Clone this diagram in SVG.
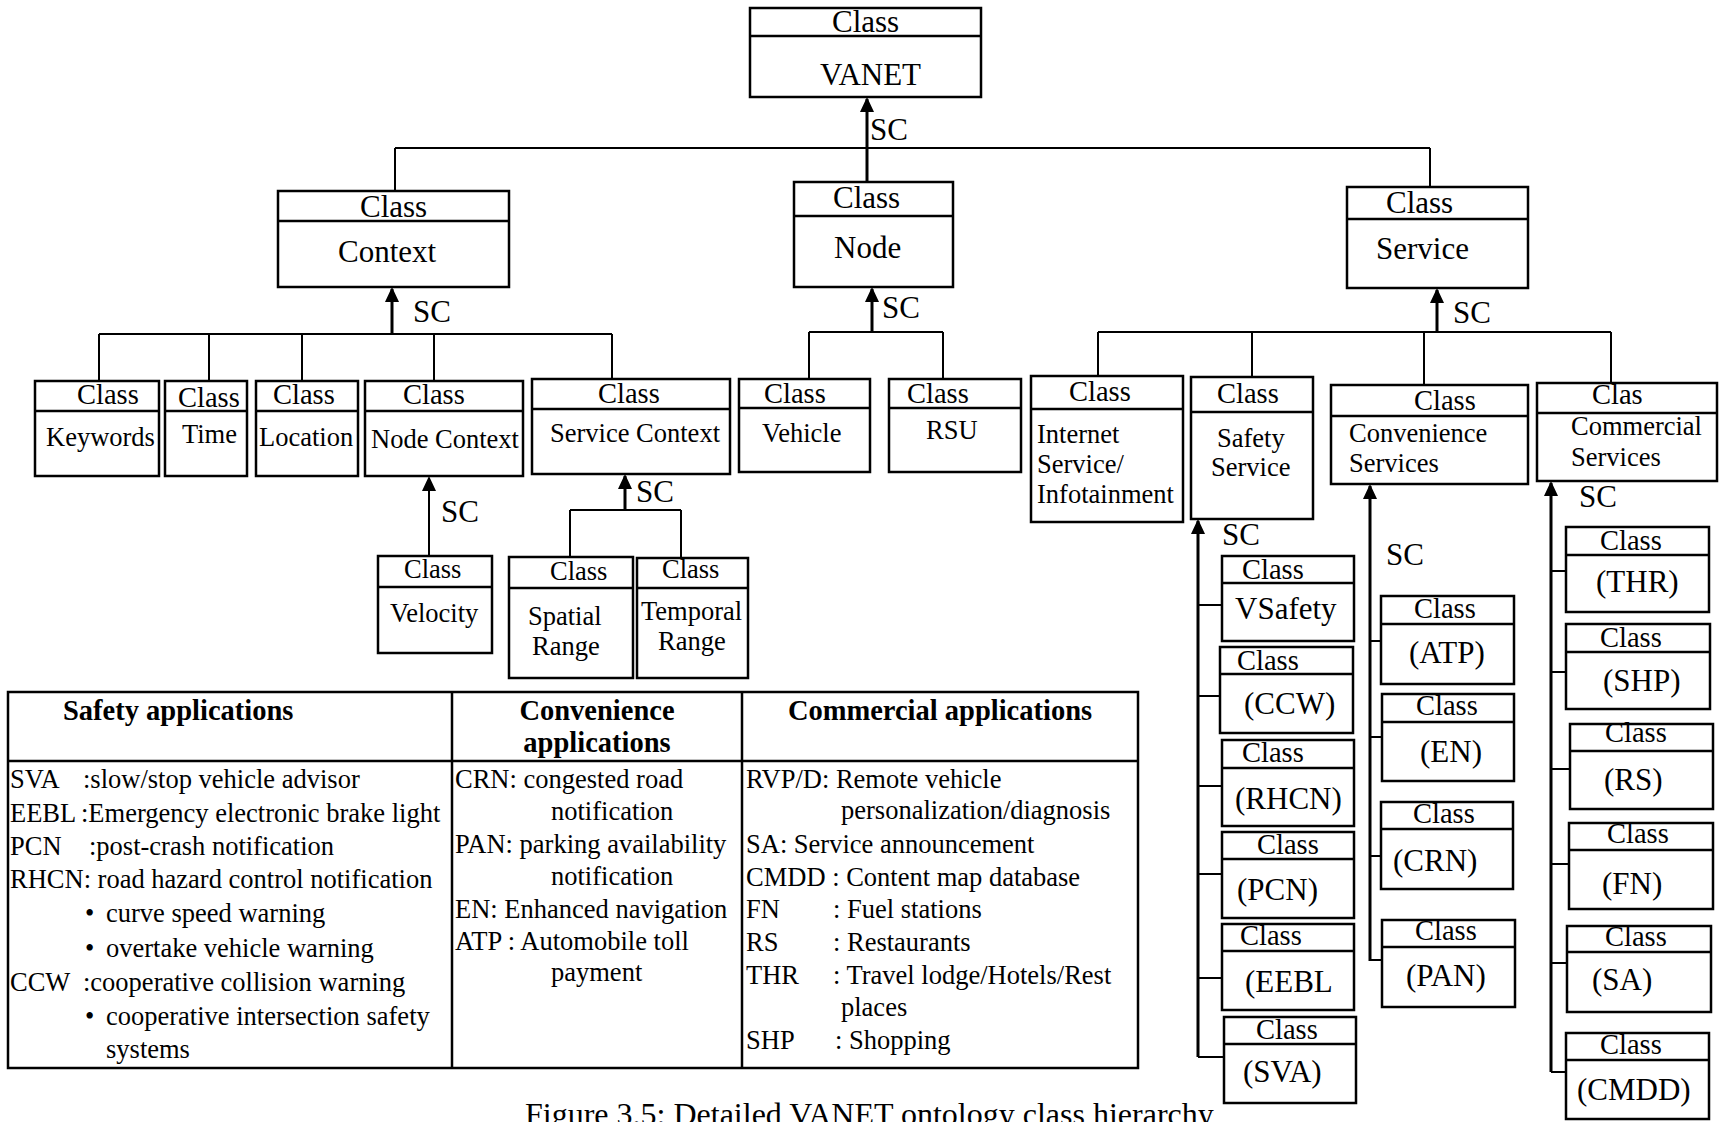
<svg xmlns="http://www.w3.org/2000/svg" width="1720" height="1122" viewBox="0 0 1720 1122">
<style>
.bx{fill:#fff;stroke:#000;stroke-width:2.5}
.dv{stroke:#000;stroke-width:2.5}
.ln{stroke:#000;stroke-width:2;fill:none}
.ar{stroke:#000;stroke-width:3;fill:none}
text{font-family:"Liberation Serif","Times New Roman",serif;fill:#000}
.c{font-size:28.5px}
.cs{font-size:26.5px}
.cl{font-size:31px}
.l{font-size:26.5px}
.p{font-size:31px}
.sc{font-size:31px}
.tb{font-size:26.5px}
.th{font-size:28.5px;font-weight:bold}
.cap{font-size:32px}
</style>
<defs>
<marker id="arr" viewBox="0 0 15 14" refX="13" refY="7" markerWidth="15" markerHeight="14" markerUnits="userSpaceOnUse" orient="auto">
<path d="M0,0 L15,7 L0,14 Z" fill="#000"/>
</marker>
</defs>

<g id="connectors">
<line class="ar" x1="867" y1="182" x2="867" y2="99" marker-end="url(#arr)"/>
<line class="ln" x1="395" y1="148" x2="1430" y2="148"/>
<line class="ln" x1="395" y1="148" x2="395" y2="191"/>
<line class="ln" x1="1430" y1="148" x2="1430" y2="187"/>

<line class="ar" x1="392" y1="334" x2="392" y2="289" marker-end="url(#arr)"/>
<line class="ln" x1="99" y1="334" x2="612" y2="334"/>
<line class="ln" x1="99" y1="334" x2="99" y2="381"/>
<line class="ln" x1="209" y1="334" x2="209" y2="381"/>
<line class="ln" x1="302" y1="334" x2="302" y2="381"/>
<line class="ln" x1="434" y1="334" x2="434" y2="381"/>
<line class="ln" x1="612" y1="334" x2="612" y2="379"/>

<line class="ar" x1="872" y1="332" x2="872" y2="289" marker-end="url(#arr)"/>
<line class="ln" x1="809" y1="332" x2="943" y2="332"/>
<line class="ln" x1="809" y1="332" x2="809" y2="379"/>
<line class="ln" x1="943" y1="332" x2="943" y2="379"/>

<line class="ar" x1="1437" y1="332" x2="1437" y2="290" marker-end="url(#arr)"/>
<line class="ln" x1="1098" y1="332" x2="1611" y2="332"/>
<line class="ln" x1="1098" y1="332" x2="1098" y2="376"/>
<line class="ln" x1="1252" y1="332" x2="1252" y2="377"/>
<line class="ln" x1="1424" y1="332" x2="1424" y2="385"/>
<line class="ln" x1="1611" y1="332" x2="1611" y2="383"/>

<line class="ln" x1="429" y1="556" x2="429" y2="478" marker-end="url(#arr)"/>

<line class="ar" x1="625" y1="510" x2="625" y2="476" marker-end="url(#arr)"/>
<line class="ln" x1="570" y1="510" x2="681" y2="510"/>
<line class="ln" x1="570" y1="510" x2="570" y2="557"/>
<line class="ln" x1="681" y1="510" x2="681" y2="558"/>

<line class="ar" x1="1198" y1="1057" x2="1198" y2="521" marker-end="url(#arr)"/>
<line class="ln" x1="1198" y1="605" x2="1222" y2="605"/>
<line class="ln" x1="1198" y1="696" x2="1220" y2="696"/>
<line class="ln" x1="1198" y1="786" x2="1222" y2="786"/>
<line class="ln" x1="1198" y1="874" x2="1222" y2="874"/>
<line class="ln" x1="1198" y1="978" x2="1222" y2="978"/>
<line class="ln" x1="1198" y1="1057" x2="1224" y2="1057"/>

<line class="ar" x1="1370" y1="961" x2="1370" y2="486" marker-end="url(#arr)"/>
<line class="ln" x1="1370" y1="641" x2="1381" y2="641"/>
<line class="ln" x1="1370" y1="737" x2="1382" y2="737"/>
<line class="ln" x1="1370" y1="856" x2="1381" y2="856"/>
<line class="ln" x1="1370" y1="960" x2="1382" y2="960"/>

<line class="ar" x1="1551" y1="1072" x2="1551" y2="483" marker-end="url(#arr)"/>
<line class="ln" x1="1551" y1="571" x2="1566" y2="571"/>
<line class="ln" x1="1551" y1="672" x2="1566" y2="672"/>
<line class="ln" x1="1551" y1="769" x2="1570" y2="769"/>
<line class="ln" x1="1551" y1="864" x2="1569" y2="864"/>
<line class="ln" x1="1551" y1="963" x2="1567" y2="963"/>
<line class="ln" x1="1551" y1="1072" x2="1566" y2="1072"/>

<text class="sc" x="870" y="140">SC</text>
<text class="sc" x="413" y="322">SC</text>
<text class="sc" x="882" y="318">SC</text>
<text class="sc" x="1453" y="323">SC</text>
<text class="sc" x="441" y="522">SC</text>
<text class="sc" x="636" y="502">SC</text>
<text class="sc" x="1222" y="545">SC</text>
<text class="sc" x="1386" y="565">SC</text>
<text class="sc" x="1579" y="507">SC</text>
</g>

<g id="vanet">
<rect class="bx" x="750" y="8" width="231" height="89"/>
<line class="dv" x1="750" y1="36" x2="981" y2="36"/>
<text class="cl" x="832" y="32">Class</text>
<text class="cl" x="820" y="85">VANET</text>
</g>

<g id="context">
<rect class="bx" x="278" y="191" width="231" height="96"/>
<line class="dv" x1="278" y1="221" x2="509" y2="221"/>
<text class="cl" x="360" y="217">Class</text>
<text class="cl" x="338" y="262">Context</text>
</g>

<g id="node">
<rect class="bx" x="794" y="182" width="159" height="105"/>
<line class="dv" x1="794" y1="216" x2="953" y2="216"/>
<text class="cl" x="833" y="208">Class</text>
<text class="cl" x="834" y="258">Node</text>
</g>

<g id="service">
<rect class="bx" x="1347" y="187" width="181" height="101"/>
<line class="dv" x1="1347" y1="219" x2="1528" y2="219"/>
<text class="cl" x="1386" y="213">Class</text>
<text class="cl" x="1376" y="259">Service</text>
</g>

<g id="keywords">
<rect class="bx" x="35" y="381" width="124" height="95"/>
<line class="dv" x1="35" y1="411" x2="159" y2="411"/>
<text class="c" x="77" y="404">Class</text>
<text class="l" x="46" y="446">Keywords</text>
</g>

<g id="time">
<rect class="bx" x="165" y="381" width="82" height="95"/>
<line class="dv" x1="165" y1="411" x2="247" y2="411"/>
<text class="c" x="178" y="407">Class</text>
<text class="l" x="182" y="443">Time</text>
</g>

<g id="location">
<rect class="bx" x="256" y="381" width="102" height="95"/>
<line class="dv" x1="256" y1="411" x2="358" y2="411"/>
<text class="c" x="273" y="404">Class</text>
<text class="l" x="259" y="446">Location</text>
</g>

<g id="node-context">
<rect class="bx" x="365" y="381" width="158" height="95"/>
<line class="dv" x1="365" y1="411" x2="523" y2="411"/>
<text class="c" x="403" y="404">Class</text>
<text class="l" x="371" y="448">Node Context</text>
</g>

<g id="service-context">
<rect class="bx" x="532" y="379" width="198" height="95"/>
<line class="dv" x1="532" y1="409" x2="730" y2="409"/>
<text class="c" x="598" y="403">Class</text>
<text class="l" x="550" y="442">Service Context</text>
</g>

<g id="velocity">
<rect class="bx" x="378" y="556" width="114" height="97"/>
<line class="dv" x1="378" y1="587" x2="492" y2="587"/>
<text class="cs" x="404" y="578">Class</text>
<text class="l" x="390" y="622">Velocity</text>
</g>

<g id="spatial-range">
<rect class="bx" x="509" y="557" width="124" height="121"/>
<line class="dv" x1="509" y1="588" x2="633" y2="588"/>
<text class="cs" x="550" y="580">Class</text>
<text class="l" x="528" y="625">Spatial</text>
<text class="l" x="532" y="655">Range</text>
</g>

<g id="temporal-range">
<rect class="bx" x="637" y="558" width="111" height="120"/>
<line class="dv" x1="637" y1="588" x2="748" y2="588"/>
<text class="cs" x="662" y="578">Class</text>
<text class="l" x="641" y="620">Temporal</text>
<text class="l" x="658" y="650">Range</text>
</g>

<g id="vehicle">
<rect class="bx" x="739" y="379" width="131" height="93"/>
<line class="dv" x1="739" y1="408" x2="870" y2="408"/>
<text class="c" x="764" y="403">Class</text>
<text class="l" x="762" y="442">Vehicle</text>
</g>

<g id="rsu">
<rect class="bx" x="889" y="379" width="132" height="93"/>
<line class="dv" x1="889" y1="408" x2="1021" y2="408"/>
<text class="c" x="907" y="403">Class</text>
<text class="l" x="926" y="439">RSU</text>
</g>

<g id="internet-service">
<rect class="bx" x="1031" y="376" width="152" height="146"/>
<line class="dv" x1="1031" y1="409" x2="1183" y2="409"/>
<text class="c" x="1069" y="401">Class</text>
<text class="l" x="1037" y="443">Internet</text>
<text class="l" x="1037" y="473">Service/</text>
<text class="l" x="1037" y="503">Infotainment</text>
</g>

<g id="safety-service">
<rect class="bx" x="1191" y="377" width="122" height="142"/>
<line class="dv" x1="1191" y1="412" x2="1313" y2="412"/>
<text class="c" x="1217" y="403">Class</text>
<text class="l" x="1217" y="447">Safety</text>
<text class="l" x="1211" y="476">Service</text>
</g>

<g id="convenience-services">
<rect class="bx" x="1331" y="385" width="197" height="99"/>
<line class="dv" x1="1331" y1="416" x2="1528" y2="416"/>
<text class="c" x="1414" y="410">Class</text>
<text class="l" x="1349" y="442">Convenience</text>
<text class="l" x="1349" y="472">Services</text>
</g>

<g id="commercial-services">
<rect class="bx" x="1537" y="383" width="180" height="98"/>
<line class="dv" x1="1537" y1="413" x2="1717" y2="413"/>
<text class="c" x="1592" y="404">Clas</text>
<text class="l" x="1571" y="435">Commercial</text>
<text class="l" x="1571" y="466">Services</text>
</g>

<g id="vsafety">
<rect class="bx" x="1222" y="556" width="132" height="85"/>
<line class="dv" x1="1222" y1="583" x2="1354" y2="583"/>
<text class="c" x="1242" y="579">Class</text>
<text class="p" x="1235" y="619">VSafety</text>
</g>
<g id="ccw">
<rect class="bx" x="1220" y="647" width="133" height="86"/>
<line class="dv" x1="1220" y1="674" x2="1353" y2="674"/>
<text class="c" x="1237" y="670">Class</text>
<text class="p" x="1244" y="714">(CCW)</text>
</g>
<g id="rhcn">
<rect class="bx" x="1222" y="740" width="132" height="86"/>
<line class="dv" x1="1222" y1="768" x2="1354" y2="768"/>
<text class="c" x="1242" y="762">Class</text>
<text class="p" x="1235" y="809">(RHCN)</text>
</g>
<g id="pcn">
<rect class="bx" x="1222" y="832" width="132" height="86"/>
<line class="dv" x1="1222" y1="859" x2="1354" y2="859"/>
<text class="c" x="1257" y="854">Class</text>
<text class="p" x="1237" y="900">(PCN)</text>
</g>
<g id="eebl">
<rect class="bx" x="1222" y="924" width="132" height="86"/>
<line class="dv" x1="1222" y1="951" x2="1354" y2="951"/>
<text class="c" x="1240" y="945">Class</text>
<text class="p" x="1245" y="992">(EEBL</text>
</g>
<g id="sva">
<rect class="bx" x="1224" y="1017" width="132" height="86"/>
<line class="dv" x1="1224" y1="1044" x2="1356" y2="1044"/>
<text class="c" x="1256" y="1039">Class</text>
<text class="p" x="1243" y="1082">(SVA)</text>
</g>

<g id="atp">
<rect class="bx" x="1381" y="596" width="133" height="88"/>
<line class="dv" x1="1381" y1="624" x2="1514" y2="624"/>
<text class="c" x="1414" y="618">Class</text>
<text class="p" x="1409" y="663">(ATP)</text>
</g>
<g id="en">
<rect class="bx" x="1382" y="694" width="132" height="87"/>
<line class="dv" x1="1382" y1="722" x2="1514" y2="722"/>
<text class="c" x="1416" y="715">Class</text>
<text class="p" x="1420" y="762">(EN)</text>
</g>
<g id="crn">
<rect class="bx" x="1381" y="802" width="132" height="87"/>
<line class="dv" x1="1381" y1="829" x2="1513" y2="829"/>
<text class="c" x="1413" y="823">Class</text>
<text class="p" x="1393" y="871">(CRN)</text>
</g>
<g id="pan">
<rect class="bx" x="1382" y="920" width="133" height="87"/>
<line class="dv" x1="1382" y1="947" x2="1515" y2="947"/>
<text class="c" x="1415" y="940">Class</text>
<text class="p" x="1406" y="986">(PAN)</text>
</g>

<g id="thr">
<rect class="bx" x="1566" y="527" width="143" height="85"/>
<line class="dv" x1="1566" y1="555" x2="1709" y2="555"/>
<text class="c" x="1600" y="550">Class</text>
<text class="p" x="1596" y="592">(THR)</text>
</g>
<g id="shp">
<rect class="bx" x="1566" y="624" width="144" height="85"/>
<line class="dv" x1="1566" y1="652" x2="1710" y2="652"/>
<text class="c" x="1600" y="647">Class</text>
<text class="p" x="1603" y="691">(SHP)</text>
</g>
<g id="rs">
<rect class="bx" x="1570" y="724" width="143" height="85"/>
<line class="dv" x1="1570" y1="751" x2="1713" y2="751"/>
<text class="c" x="1605" y="742">Class</text>
<text class="p" x="1604" y="790">(RS)</text>
</g>
<g id="fn">
<rect class="bx" x="1569" y="823" width="144" height="86"/>
<line class="dv" x1="1569" y1="850" x2="1713" y2="850"/>
<text class="c" x="1607" y="843">Class</text>
<text class="p" x="1602" y="894">(FN)</text>
</g>
<g id="sa">
<rect class="bx" x="1567" y="926" width="144" height="86"/>
<line class="dv" x1="1567" y1="952" x2="1711" y2="952"/>
<text class="c" x="1605" y="946">Class</text>
<text class="p" x="1592" y="990">(SA)</text>
</g>
<g id="cmdd">
<rect class="bx" x="1566" y="1033" width="143" height="86"/>
<line class="dv" x1="1566" y1="1060" x2="1709" y2="1060"/>
<text class="c" x="1600" y="1054">Class</text>
<text class="p" x="1577" y="1100">(CMDD)</text>
</g>

<g id="legend-table">
<rect class="bx" x="8" y="692" width="1130" height="376"/>
<line class="dv" x1="8" y1="761" x2="1138" y2="761"/>
<line class="dv" x1="452" y1="692" x2="452" y2="1068"/>
<line class="dv" x1="742" y1="692" x2="742" y2="1068"/>
<text class="th" x="63" y="720">Safety applications</text>
<text class="th" x="597" y="720" text-anchor="middle">Convenience</text>
<text class="th" x="597" y="752" text-anchor="middle">applications</text>
<text class="th" x="940" y="720" text-anchor="middle">Commercial applications</text>

<text class="tb" x="10" y="788">SVA</text><text class="tb" x="83" y="788">:slow/stop vehicle advisor</text>
<text class="tb" x="10" y="822">EEBL</text><text class="tb" x="81" y="822">:Emergency electronic brake light</text>
<text class="tb" x="10" y="855">PCN</text><text class="tb" x="89" y="855">:post-crash notification</text>
<text class="tb" x="10" y="888">RHCN: road hazard control notification</text>
<text class="tb" x="85" y="922">•</text><text class="tb" x="106" y="922">curve speed warning</text>
<text class="tb" x="85" y="957">•</text><text class="tb" x="106" y="957">overtake vehicle warning</text>
<text class="tb" x="10" y="991">CCW</text><text class="tb" x="83" y="991">:cooperative collision warning</text>
<text class="tb" x="85" y="1025">•</text><text class="tb" x="106" y="1025">cooperative intersection safety</text>
<text class="tb" x="106" y="1058">systems</text>

<text class="tb" x="455" y="788">CRN: congested road</text>
<text class="tb" x="551" y="820">notification</text>
<text class="tb" x="455" y="853">PAN: parking availability</text>
<text class="tb" x="551" y="885">notification</text>
<text class="tb" x="455" y="918">EN: Enhanced navigation</text>
<text class="tb" x="455" y="950">ATP : Automobile toll</text>
<text class="tb" x="551" y="981">payment</text>

<text class="tb" x="746" y="788">RVP/D: Remote vehicle</text>
<text class="tb" x="841" y="819">personalization/diagnosis</text>
<text class="tb" x="746" y="853">SA: Service announcement</text>
<text class="tb" x="746" y="886">CMDD : Content map database</text>
<text class="tb" x="746" y="918">FN</text><text class="tb" x="833" y="918">: Fuel stations</text>
<text class="tb" x="746" y="951">RS</text><text class="tb" x="833" y="951">: Restaurants</text>
<text class="tb" x="746" y="984">THR</text><text class="tb" x="833" y="984">: Travel lodge/Hotels/Rest</text>
<text class="tb" x="841" y="1016">places</text>
<text class="tb" x="746" y="1049">SHP</text><text class="tb" x="835" y="1049">: Shopping</text>
</g>

<text class="cap" x="525" y="1125">Figure 3.5: Detailed VANET ontology class hierarchy</text>
</svg>
